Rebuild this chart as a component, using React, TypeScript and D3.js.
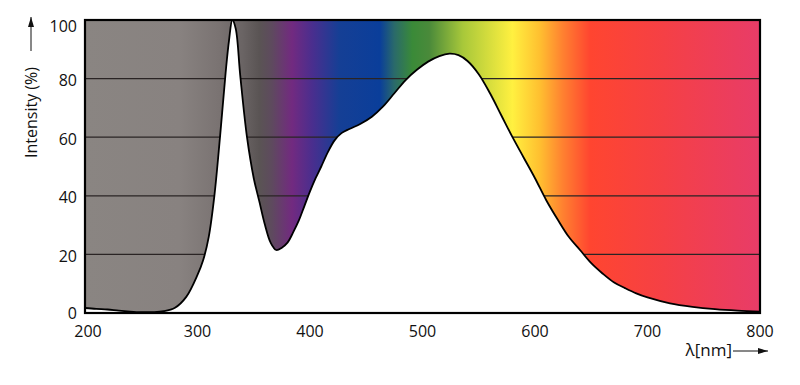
import { useEffect, useRef } from "react"
import * as d3 from "d3"

// spectrum
const wavelengths = [200, 210, 220, 230, 240, 250, 260, 270, 280, 290, 300, 305, 310, 315, 320, 325, 328, 331, 334, 338, 344, 350, 355, 360, 365, 370, 375, 380, 385, 390, 395, 400, 405, 410, 416, 422, 428, 435, 445, 455, 465, 475, 485, 495, 505, 515, 524, 532, 540, 550, 560, 570, 580, 590, 600, 610, 620, 630, 640, 650, 660, 670, 680, 690, 700, 720, 740, 760, 780, 800]
const intensity = [1.7, 1.4, 1.2, 0.8, 0.5, 0.3, 0.3, 0.6, 1.8, 5.5, 13, 18, 26, 40, 60, 82, 93, 100, 97, 81, 60, 46, 38, 30, 24, 21.5, 22.3, 24, 27.5, 31.5, 36.5, 41.5, 46, 50, 55, 59, 61.4, 62.8, 64.6, 67, 70.5, 75, 79.5, 83, 85.8, 87.7, 88.5, 88, 86, 81.5, 75, 67.5, 60, 53, 46, 38.5, 32, 26, 21.5, 17, 13.5, 10.5, 8.5, 6.7, 5.3, 3.3, 2.1, 1.3, 0.8, 0.5]

const xTicks = [200, 300, 400, 500, 600, 700, 800]
const yTicks = [0, 20, 40, 60, 80, 100]

// background colour band across the wavelength range
const bandNm = [200, 284, 319, 340, 355, 366, 384, 402, 426, 462, 475, 491, 506, 536, 580, 604, 625, 649, 714, 800]
const bandColors = ["#8a8582", "#888280", "#7a7372", "#6a6464", "#5a5454", "#5e4a5e", "#722a80", "#4a2e8e", "#153f95", "#0a3e9a", "#2a6a6a", "#3a8a38", "#4a8a3a", "#a8c83a", "#fff040", "#ffc030", "#ff8030", "#ff4530", "#f54045", "#e83c68"]

export default function App() {
  const svgRef = useRef<SVGSVGElement>(null)

  useEffect(() => {
    const width = 800, height = 385
    const margin = { top: 20, right: 40, bottom: 72, left: 85 }
    const wt = width - margin.left - margin.right
    const ht = height - margin.top - margin.bottom

    d3.select(svgRef.current).selectAll("*").remove()
    const root = d3.select(svgRef.current)
      .attr("width", width)
      .attr("height", height)
    const font = "'Open Sans', 'Noto Sans', sans-serif"

    const defs = root.append("defs")
    const svg = root.append("g").attr("transform", `translate(${margin.left},${margin.top})`)

    const x = d3.scaleLinear().domain([200, 800]).range([0, wt])
    const y = d3.scaleLinear().domain([0, 100]).range([ht, 0])

    const grad = defs.append("linearGradient")
      .attr("id", "spec")
      .attr("gradientUnits", "userSpaceOnUse")
      .attr("x1", x(200)).attr("x2", x(800))
      .attr("y1", 0).attr("y2", 0)
    grad.selectAll("stop")
      .data(bandNm)
      .join("stop")
        .attr("offset", d => (d - 200) / 600)
        .attr("stop-color", (d, i) => bandColors[i])

    svg.append("rect")
      .attr("x", 0).attr("y", 0)
      .attr("width", wt).attr("height", ht)
      .attr("fill", "url(#spec)")

    // grid lines
    svg.selectAll(".grid")
      .data([20, 40, 60, 80])
      .join("line")
        .attr("x1", 0).attr("x2", wt)
        .attr("y1", d => y(d)).attr("y2", d => y(d))
        .attr("stroke", "#2a2424")
        .attr("stroke-width", 1.2)

    const pts = wavelengths.map((w, i) => [w, intensity[i]] as [number, number])

    const area = d3.area<[number, number]>()
      .x(d => x(d[0]))
      .y0(ht)
      .y1(d => Math.min(y(d[1]), ht))
      .curve(d3.curveCatmullRom.alpha(0.5))
    svg.append("path")
      .attr("d", area(pts))
      .attr("fill", "#fff")

    const line = d3.line<[number, number]>()
      .x(d => x(d[0]))
      .y(d => y(d[1]))
      .curve(d3.curveCatmullRom.alpha(0.5))
    svg.append("path")
      .attr("d", line(pts))
      .attr("fill", "none")
      .attr("stroke", "#000")
      .attr("stroke-width", 1.8)

    // frame
    svg.append("rect")
      .attr("x", 0).attr("y", 0)
      .attr("width", wt).attr("height", ht)
      .attr("fill", "none")
      .attr("stroke", "#000")
      .attr("stroke-width", 2.2)

    // tick labels
    svg.selectAll(".xt")
      .data(xTicks)
      .join("text")
        .attr("x", d => x(d) + (d === 200 ? 3 : 0))
        .attr("y", ht + 24)
        .attr("text-anchor", "middle")
        .style("font-family", font)
        .style("font-size", "16px")
        .attr("fill", "#111")
        .text(d => d)

    svg.selectAll(".yt")
      .data(yTicks)
      .join("text")
        .attr("x", -8)
        .attr("y", d => y(d) + (d === 100 ? 6 : d === 0 ? 0 : 2))
        .attr("dy", "0.35em")
        .attr("text-anchor", "end")
        .style("font-family", font)
        .style("font-size", "16px")
        .attr("fill", "#111")
        .text(d => d)

    defs.append("marker")
      .attr("id", "arr")
      .attr("viewBox", "0 0 10 6")
      .attr("refX", 10).attr("refY", 3)
      .attr("markerWidth", 10).attr("markerHeight", 6)
      .attr("markerUnits", "userSpaceOnUse")
      .attr("orient", "auto")
      .append("path")
        .attr("d", "M0,0L10,3L0,6Z")
        .attr("fill", "#111")

    // x-axis label
    root.append("text")
      .attr("x", 732)
      .attr("y", 356)
      .attr("text-anchor", "end")
      .style("font-family", font)
      .style("font-size", "17px")
      .attr("fill", "#111")
      .text("λ[nm]")
    root.append("line")
      .attr("x1", 733).attr("x2", 768)
      .attr("y1", 351).attr("y2", 351)
      .attr("stroke", "#111")
      .attr("stroke-width", 1)
      .attr("marker-end", "url(#arr)")

    // y-axis label
    root.append("text")
      .attr("transform", "translate(37,158) rotate(-90)")
      .attr("text-anchor", "start")
      .style("font-family", font)
      .style("font-size", "16px")
      .attr("fill", "#111")
      .text("Intensity (%)")
    root.append("line")
      .attr("x1", 31).attr("x2", 31)
      .attr("y1", 51).attr("y2", 17)
      .attr("stroke", "#111")
      .attr("stroke-width", 1)
      .attr("marker-end", "url(#arr)")
  }, [])

  return (
    <svg ref={svgRef} style={{ position: "absolute", left: 0, top: 0, background: "#fff" }}></svg>
  )
}
